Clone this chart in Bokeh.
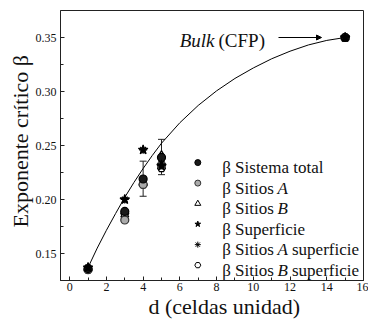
from bokeh.plotting import figure
from bokeh.models import (Range1d, SingleIntervalTicker, PrintfTickFormatter, Label, Title,
                          Whisker, TeeHead, Arrow, NormalHead, ColumnDataSource)
from bokeh.embed import file_html
from bokeh.resources import INLINE

# ---- data ----
d = [1, 3, 4, 5, 15]
beta_total = [0.136, 0.189, 0.219, 0.239, 0.350]
beta_A = [0.135, 0.181, 0.214, 0.232, 0.350]
beta_B = [0.136, 0.186, 0.215, 0.241, 0.350]
beta_sup = [0.137, 0.200, 0.246, 0.231, 0.350]
beta_A_sup = [0.137, 0.200, 0.246, 0.233, 0.350]
beta_B_sup = [0.135, 0.187, 0.214, 0.229, 0.350]

err_d = [4, 5]
err_lo = [0.203, 0.223]
err_hi = [0.2355, 0.2557]

fit_d = [1, 1.5, 2, 2.5, 3, 3.5, 4, 4.5, 5, 6, 7, 8, 9, 10, 11, 12, 13, 14, 15]
fit_beta = [0.137, 0.155, 0.1715, 0.187, 0.202, 0.2158, 0.2287, 0.2408, 0.2521,
            0.2711, 0.2871, 0.3006, 0.3121, 0.3218, 0.3303, 0.3373, 0.3431, 0.3473, 0.3500]

x_ticks_interval = 2
y_ticks_interval = 0.05

FONT = "Liberation Serif"

p = figure(width=368, height=320, output_backend="svg", toolbar_location=None,
           x_range=Range1d(-0.5, 16), y_range=Range1d(0.125, 0.375),
           min_border_left=60, min_border_right=5, min_border_top=10, min_border_bottom=37)
p.xgrid.visible = False
p.ygrid.visible = False
p.outline_line_color = "#222222"
p.outline_line_width = 1
p.background_fill_color = "white"
p.border_fill_color = "white"

p.xaxis.ticker = SingleIntervalTicker(interval=x_ticks_interval, num_minor_ticks=2)
p.yaxis.ticker = SingleIntervalTicker(interval=y_ticks_interval, num_minor_ticks=2)
p.yaxis.formatter = PrintfTickFormatter(format="%.2f")
for ax in (p.xaxis[0], p.yaxis[0]):
    ax.axis_line_color = "#222222"
    ax.major_tick_in = 4
    ax.major_tick_out = 0
    ax.minor_tick_in = 3
    ax.minor_tick_out = 0
    ax.major_tick_line_color = "#222222"
    ax.minor_tick_line_color = "#222222"
    ax.major_label_text_font = FONT
    ax.major_label_text_font_size = "12px"
    ax.major_label_text_color = "#111111"
p.xaxis.major_label_standoff = 2
p.yaxis.major_label_standoff = 4

# axis titles
p.add_layout(Title(text="d (celdas unidad)", align="left", offset=88, standoff=0,
                   vertical_align="top",
                   text_font=FONT, text_font_size="22px", text_font_style="normal",
                   text_color="#111111"), "below")
p.add_layout(Title(text="Exponente crítico β", align="left", offset=53, standoff=0,
                   text_font=FONT, text_font_size="22px", text_font_style="normal",
                   text_color="#111111"), "left")

# fit curve
p.line(fit_d, fit_beta, line_color="black", line_width=1)

# error bars
err_src = ColumnDataSource(dict(x=err_d, lo=err_lo, hi=err_hi))
p.add_layout(Whisker(source=err_src, base="x", lower="lo", upper="hi", dimension="height",
                     line_color="#222222", line_width=1,
                     upper_head=TeeHead(size=7, line_color="#222222"),
                     lower_head=TeeHead(size=7, line_color="#222222")))

series = [
    (beta_B_sup, "hex", "white", "black", 8),
    (beta_B, "triangle", "white", "black", 8),
    (beta_A, "circle", "#aaaaaa", "#333333", 8),
    (beta_total, "circle", "#1a1a1a", "black", 8),
    (beta_A_sup, "asterisk", "black", "black", 8),
    (beta_sup, "star", "black", "black", 10),
]
for vals, mk, fc, lc, sz in series:
    p.scatter(d, vals, marker=mk, size=sz, fill_color=fc, line_color=lc, line_width=1.2)

# pixel helpers (page pixels of the reference -> data coordinates)
def px_x(px):
    return -0.5 + (px - 60) / (303 / 16.5)

def px_y(py):
    return 0.375 - (py - 10.5) / (272.5 / 0.25)

def lab(text, px, py, size, align="left", italic=False, font=FONT):
    p.add_layout(Label(x=px_x(px), y=px_y(py), text=text,
                       text_font=font, text_font_size=size, text_align=align,
                       text_baseline="alphabetic", text_color="#111111",
                       text_font_style="italic" if italic else "normal"))

# Bulk annotation
lab("Bulk", 214, 41, "19px", align="right", italic=True)
lab("(CFP)", 218, 41, "19px")
p.add_layout(Arrow(x_start=px_x(278), y_start=0.35, x_end=px_x(321), y_end=0.35,
                   line_color="black", line_width=1,
                   end=NormalHead(size=5, fill_color="black", line_color="black")))

# legend
legend_rows = [
    ("circle", "#1a1a1a", "black", [("β Sistema total", 221.7, False)]),
    ("circle", "#aaaaaa", "#333333", [("β Sitios", 221.7, False), ("A", 277, True)]),
    ("triangle", "white", "black", [("β Sitios", 221.7, False), ("B", 277, True)]),
    ("star", "black", "black", [("β Superficie", 221.7, False)]),
    ("asterisk", "black", "black", [("β Sitios", 221.7, False), ("A", 277, True), ("superficie", 291.5, False)]),
    ("hex", "white", "black", [("β Sitios", 221.7, False), ("B", 277, True), ("superficie", 291.5, False)]),
]
for i, (mk, fc, lc, pieces) in enumerate(legend_rows):
    cy = 164 + 20.7 * i
    base = 169.3 + 20.7 * i
    p.scatter([px_x(197.3)], [px_y(cy)], marker=mk, size=6, fill_color=fc, line_color=lc, line_width=1)
    for txt, x0, it in pieces:
        lab(txt, x0, base, "17px", italic=it)

open("out.html", "w").write(file_html(p, INLINE))
